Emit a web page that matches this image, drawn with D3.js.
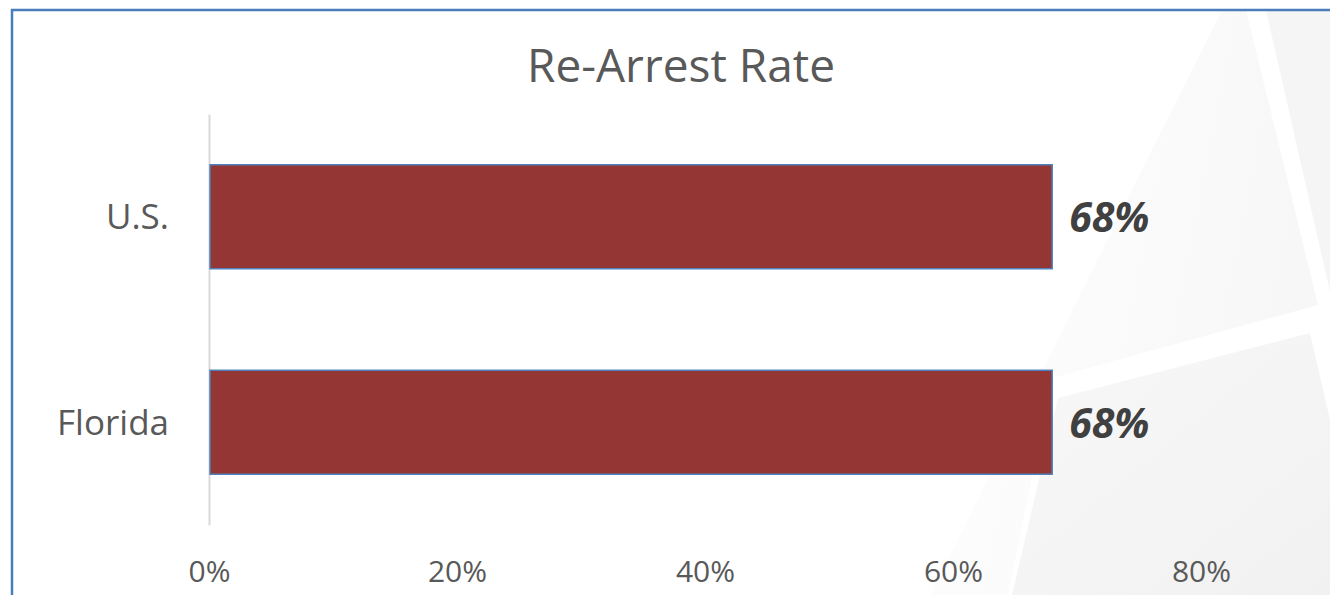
<!DOCTYPE html>
<html>
<head>
<meta charset="utf-8">
<script src="https://cdn.jsdelivr.net/npm/d3@7"></script>
<style>
  html, body { margin: 0; padding: 0; background: #ffffff; }
  svg { display: block; }
  text { font-family: "Open Sans", "Noto Sans", sans-serif; }
</style>
</head>
<body>
<svg id="chart" width="1330" height="595"></svg>
<script>
// Chart data
const title = "Re-Arrest Rate";
const categories = ["U.S.", "Florida"];
const rates = [0.68, 0.68];
const xTicks = [0, 0.2, 0.4, 0.6, 0.8];

const W = 1330, H = 595;
const svg = d3.select("#chart");

// Soft slide-style backdrop shapes in the right-hand corner
const defs = svg.append("defs");
const g1 = defs.append("linearGradient").attr("id", "fadeA")
  .attr("x1", "0").attr("y1", "0").attr("x2", "1").attr("y2", "0.3");
g1.append("stop").attr("offset", "0").attr("stop-color", "#ffffff");
g1.append("stop").attr("offset", "1").attr("stop-color", "#f7f7f7");
const g2 = defs.append("linearGradient").attr("id", "fadeB")
  .attr("x1", "0").attr("y1", "0").attr("x2", "1").attr("y2", "1");
g2.append("stop").attr("offset", "0").attr("stop-color", "#f8f8f8");
g2.append("stop").attr("offset", "1").attr("stop-color", "#f1f1f1");

const backdrop = [
  { pts: [[1222, 10], [1246, 10], [1318, 305], [1052, 378], [1008, 595], [930, 595]], fill: "url(#fadeA)" },
  { pts: [[1266, 10], [1330, 10], [1330, 292]], fill: "#f5f5f5" },
  { pts: [[1058, 398], [1310, 333], [1330, 420], [1330, 595], [1012, 595]], fill: "url(#fadeB)" }
];
svg.append("g").selectAll("polygon").data(backdrop).join("polygon")
  .attr("points", d => d.pts.map(p => p.join(",")).join(" "))
  .attr("fill", d => d.fill);

// Frame
svg.append("rect")
  .attr("x", 12).attr("y", 10)
  .attr("width", W + 20).attr("height", H + 20)
  .attr("fill", "none")
  .attr("stroke", "#4a7ebb")
  .attr("stroke-width", 2.5);

// Scales
const x = d3.scaleLinear().domain([0, 0.8]).range([209, 1201]);
const y = d3.scaleBand().domain(categories).range([114, 525])
  .paddingInner(0.494).paddingOuter(0.247);

// Title
svg.append("text")
  .attr("x", 681).attr("y", 82)
  .attr("text-anchor", "middle")
  .attr("font-size", 46)
  .attr("fill", "#595959")
  .text(title);

// Category axis
const yAxis = svg.append("g")
  .attr("transform", `translate(${x(0)},0)`)
  .call(d3.axisLeft(y).tickSize(0).tickSizeOuter(0).tickPadding(40));
yAxis.select(".domain").attr("stroke", "#d9d9d9").attr("stroke-width", 2);
yAxis.selectAll("text")
  .attr("font-size", 35)
  .attr("fill", "#595959")
  .attr("font-family", "'Open Sans', sans-serif")
  .attr("dy", "0.36em");

// Value axis (labels only)
const xAxis = svg.append("g")
  .attr("transform", "translate(0,582)")
  .call(d3.axisBottom(x).tickValues(xTicks).tickFormat(d3.format(".0%")).tickSize(0));
xAxis.select(".domain").remove();
xAxis.selectAll("text")
  .attr("y", 0).attr("dy", 0)
  .attr("font-size", 30)
  .attr("fill", "#595959")
  .attr("font-family", "'Open Sans', sans-serif");

// Bars
const rows = categories.map((c, i) => ({ cat: c, v: rates[i] }));
svg.append("g").selectAll("rect").data(rows).join("rect")
  .attr("x", x(0) + 1)
  .attr("y", d => y(d.cat))
  .attr("width", d => x(d.v) - x(0) - 1)
  .attr("height", y.bandwidth())
  .attr("fill", "#943634")
  .attr("stroke", "#4f81bd")
  .attr("stroke-width", 1.5);

// Value labels
svg.append("g").selectAll("text").data(rows).join("text")
  .attr("x", d => x(d.v) + 17)
  .attr("y", d => y(d.cat) + y.bandwidth() / 2)
  .attr("dy", "0.38em")
  .attr("font-size", 41)
  .attr("font-weight", 700)
  .attr("font-style", "italic")
  .attr("fill", "#404040")
  .text(d => d3.format(".0%")(d.v));
</script>
</body>
</html>
